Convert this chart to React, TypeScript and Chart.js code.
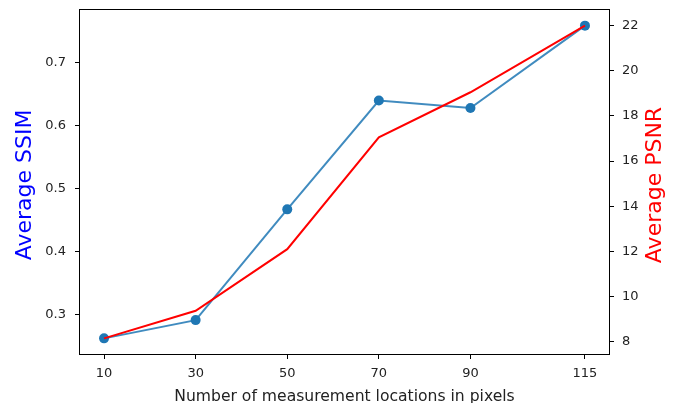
import { useEffect, useRef } from "react";
import { Chart, registerables } from "chart.js";

Chart.register(...registerables);

const locations = [10, 30, 50, 70, 90, 115];
const ssimValues = [0.262, 0.291, 0.467, 0.64, 0.628, 0.759];
const psnrValues = [8.15, 9.37, 12.1, 17.05, 19.05, 22.0];
const ssimTicks = [0.3, 0.4, 0.5, 0.6, 0.7];
const psnrTicks = [8, 10, 12, 14, 16, 18, 20, 22];
const xTitle = "Number of measurement locations in pixels";
const ssimTitle = "Average SSIM";
const psnrTitle = "Average PSNR";

const FONT = "'DejaVu Sans', sans-serif";
const TEXT = "#222";

function padRange(v: number[]): [number, number] {
  const lo = Math.min(...v);
  const hi = Math.max(...v);
  const p = (hi - lo) * 0.05;
  return [lo - p, hi + p];
}

const framePlugin = {
  id: "frameAndTitles",
  afterDraw(chart: any) {
    const { ctx, chartArea: a } = chart;
    ctx.save();
    ctx.strokeStyle = "#000";
    ctx.lineWidth = 1;
    ctx.strokeRect(a.left - 0.5, a.top - 0.5, a.right - a.left + 1, a.bottom - a.top + 1);

    ctx.fillStyle = TEXT;
    ctx.font = `15.6px ${FONT}`;
    ctx.textAlign = "center";
    ctx.textBaseline = "alphabetic";
    ctx.fillText(xTitle, (a.left + a.right) / 2, chart.height - 2);

    const midY = (a.top + a.bottom) / 2 + 3;
    ctx.font = `22px ${FONT}`;
    ctx.fillStyle = "#0000ff";
    ctx.save();
    ctx.translate(a.left - 49, midY);
    ctx.rotate(-Math.PI / 2);
    ctx.fillText(ssimTitle, 0, 0);
    ctx.restore();

    ctx.fillStyle = "#ff0000";
    ctx.save();
    ctx.translate(a.right + 52, midY);
    ctx.rotate(-Math.PI / 2);
    ctx.fillText(psnrTitle, 0, 0);
    ctx.restore();
    ctx.restore();
  },
};

export default function App() {
  const ref = useRef<HTMLCanvasElement | null>(null);

  useEffect(() => {
    if (!ref.current) return;
    const [xMin, xMax] = padRange(locations);
    const [sMin, sMax] = padRange(ssimValues);
    const [pMin, pMax] = padRange(psnrValues);

    const tickFont = { family: FONT, size: 13 };
    const grid = {
      display: true,
      drawOnChartArea: false,
      drawTicks: true,
      tickLength: 5,
      color: "#000",
      lineWidth: 1,
    };

    const chart = new Chart(ref.current, {
      type: "line",
      data: {
        datasets: [
          {
            label: "PSNR",
            data: locations.map((x, i) => ({ x, y: psnrValues[i] })),
            yAxisID: "y1",
            borderColor: "#ff0000",
            backgroundColor: "#ff0000",
            borderWidth: 2,
            pointRadius: 0,
            tension: 0,
            order: 1,
          },
          {
            label: "SSIM",
            data: locations.map((x, i) => ({ x, y: ssimValues[i] })),
            yAxisID: "y",
            borderColor: "rgba(31,119,180,0.85)",
            backgroundColor: "#1f77b4",
            pointBackgroundColor: "#1f77b4",
            pointBorderColor: "#1f77b4",
            borderWidth: 2,
            pointRadius: 5,
            pointBorderWidth: 0,
            tension: 0,
            order: 2,
          },
        ],
      },
      options: {
        responsive: false,
        animation: false,
        devicePixelRatio: 1,
        layout: { padding: { top: 10, left: 0, right: 0, bottom: 0 } },
        plugins: {
          legend: { display: false },
          tooltip: { enabled: false },
        },
        scales: {
          x: {
            type: "linear",
            position: "bottom",
            min: xMin,
            max: xMax,
            grid,
            border: { display: false },
            ticks: {
              font: tickFont,
              color: TEXT,
              padding: 7,
              maxRotation: 0,
              autoSkip: false,
              callback: (v: any) => String(v),
            },
            afterBuildTicks: (s: any) => {
              s.ticks = locations.map((v) => ({ value: v }));
            },
            afterFit: (s: any) => {
              s.height = 49;
              s.paddingLeft = 0;
              s.paddingRight = 0;
            },
          },
          y: {
            type: "linear",
            position: "left",
            min: sMin,
            max: sMax,
            grid,
            border: { display: false },
            ticks: {
              font: tickFont,
              color: TEXT,
              padding: 9,
              callback: (v: any) => Number(v).toFixed(1),
            },
            afterBuildTicks: (s: any) => {
              s.ticks = ssimTicks.map((v) => ({ value: v }));
            },
            afterFit: (s: any) => {
              s.width = 80;
              s.paddingTop = 0;
              s.paddingBottom = 0;
            },
          },
          y1: {
            type: "linear",
            position: "right",
            min: pMin,
            max: pMax,
            grid,
            border: { display: false },
            ticks: {
              font: tickFont,
              color: TEXT,
              padding: 8,
              callback: (v: any) => String(v),
            },
            afterBuildTicks: (s: any) => {
              s.ticks = psnrTicks.map((v) => ({ value: v }));
            },
            afterFit: (s: any) => {
              s.width = 77;
              s.paddingTop = 0;
              s.paddingBottom = 0;
            },
          },
        },
      },
      plugins: [framePlugin],
    });
    return () => chart.destroy();
  }, []);

  return (
    <div style={{ position: "absolute", left: 0, top: 0, width: 686, height: 403, background: "#fff" }}>
      <canvas ref={ref} width={686} height={403} style={{ width: 686, height: 403, display: "block" }} />
    </div>
  );
}
